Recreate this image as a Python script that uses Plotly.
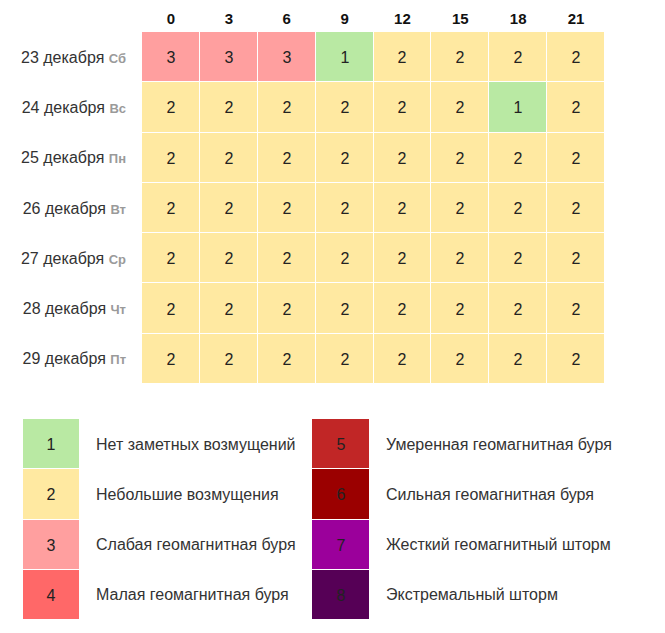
import plotly.graph_objects as go

hours = [0, 3, 6, 9, 12, 15, 18, 21]
dates = ["23 декабря", "24 декабря", "25 декабря", "26 декабря", "27 декабря", "28 декабря", "29 декабря"]
weekdays = ["Сб", "Вс", "Пн", "Вт", "Ср", "Чт", "Пт"]
kp = [
    [3, 3, 3, 1, 2, 2, 2, 2],
    [2, 2, 2, 2, 2, 2, 1, 2],
    [2, 2, 2, 2, 2, 2, 2, 2],
    [2, 2, 2, 2, 2, 2, 2, 2],
    [2, 2, 2, 2, 2, 2, 2, 2],
    [2, 2, 2, 2, 2, 2, 2, 2],
    [2, 2, 2, 2, 2, 2, 2, 2],
]
levels = [1, 2, 3, 4, 5, 6, 7, 8]
level_names = [
    "Нет заметных возмущений",
    "Небольшие возмущения",
    "Слабая геомагнитная буря",
    "Малая геомагнитная буря",
    "Умеренная геомагнитная буря",
    "Сильная геомагнитная буря",
    "Жесткий геомагнитный шторм",
    "Экстремальный шторм",
]
level_colors = ["#b9e9a3", "#ffe9a1", "#ff9f9f", "#ff6868", "#c12626", "#9b0000", "#9b009b", "#560056"]

W, H = 665, 633
OFF = 8  # page body margin
FONT = "Liberation Sans, Arial, sans-serif"

cs = []
n = len(levels)
for i, c in enumerate(level_colors):
    cs.append([i / n, c])
    cs.append([(i + 1) / n, c])


def px_x(p):
    return (p - OFF) / W


def px_y(p):
    return 1 - (p - OFF) / H


row_labels = [f"{d} <span style='color:#9a9a9a;font-size:13px'><b>{w}</b></span>" for d, w in zip(dates, weekdays)]

fig = go.Figure()
fig.add_trace(go.Heatmap(
    z=kp, x=[str(h) for h in hours], y=row_labels,
    colorscale=cs, zmin=0.5, zmax=8.5, showscale=False,
    xgap=1, ygap=1, text=kp, texttemplate="%{text}",
    textfont=dict(size=16, color="#222", family=FONT),
    hoverinfo="skip", xaxis="x", yaxis="y",
))

left = levels[:4]
right = levels[4:]
fig.add_trace(go.Heatmap(
    z=[[v] for v in left], x=["a"], y=[str(v) for v in left],
    colorscale=cs, zmin=0.5, zmax=8.5, showscale=False, ygap=1,
    text=[[v] for v in left], texttemplate="%{text}",
    textfont=dict(size=16, color="#222", family=FONT),
    hoverinfo="skip", xaxis="x2", yaxis="y2",
))
fig.add_trace(go.Heatmap(
    z=[[v] for v in right], x=["b"], y=[str(v) for v in right],
    colorscale=cs, zmin=0.5, zmax=8.5, showscale=False, ygap=1,
    text=[[v] for v in right], texttemplate="%{text}",
    textfont=dict(size=16, color="#222", family=FONT),
    hoverinfo="skip", xaxis="x3", yaxis="y3",
))

leg_top, leg_bot = 419, 620
row_h = (leg_bot - leg_top) / 4
annotations = []
for i, (v, name) in enumerate(zip(levels, level_names)):
    col = i // 4
    r = i % 4
    xpx = 96 if col == 0 else 386
    ypx = leg_top + row_h * (r + 0.5)
    annotations.append(dict(
        x=px_x(xpx), y=px_y(ypx), xref="paper", yref="paper",
        text=name, showarrow=False, xanchor="left", yanchor="middle",
        xshift=-2,
        font=dict(size=16, color="#333", family=FONT),
    ))

hidden = dict(showgrid=False, zeroline=False, showticklabels=False, ticks="", fixedrange=True)

fig.update_layout(
    width=W, height=H,
    margin=dict(l=0, r=0, t=0, b=0),
    paper_bgcolor="white", plot_bgcolor="white",
    font=dict(family=FONT, color="#333", size=16),
    xaxis=dict(
        domain=[px_x(142), px_x(605)], side="top", type="category",
        tickvals=[str(h) for h in hours], ticktext=[f"<b>{h}</b>" for h in hours],
        tickfont=dict(size=15, color="#111", family=FONT),
        showgrid=False, zeroline=False, ticks="", ticklabelstandoff=4,
    ),
    yaxis=dict(
        domain=[px_y(384), px_y(32)], type="category", autorange="reversed",
        tickfont=dict(size=16, color="#333", family=FONT),
        showgrid=False, zeroline=False, ticks="", ticklabelstandoff=15,
    ),
    xaxis2=dict(domain=[px_x(23), px_x(79)], anchor="y2", **hidden),
    yaxis2=dict(domain=[px_y(leg_bot), px_y(leg_top)], anchor="x2", autorange="reversed", type="category", **hidden),
    xaxis3=dict(domain=[px_x(312), px_x(369)], anchor="y3", **hidden),
    yaxis3=dict(domain=[px_y(leg_bot), px_y(leg_top)], anchor="x3", autorange="reversed", type="category", **hidden),
    annotations=annotations,
)

fig.write_html("out.html")
